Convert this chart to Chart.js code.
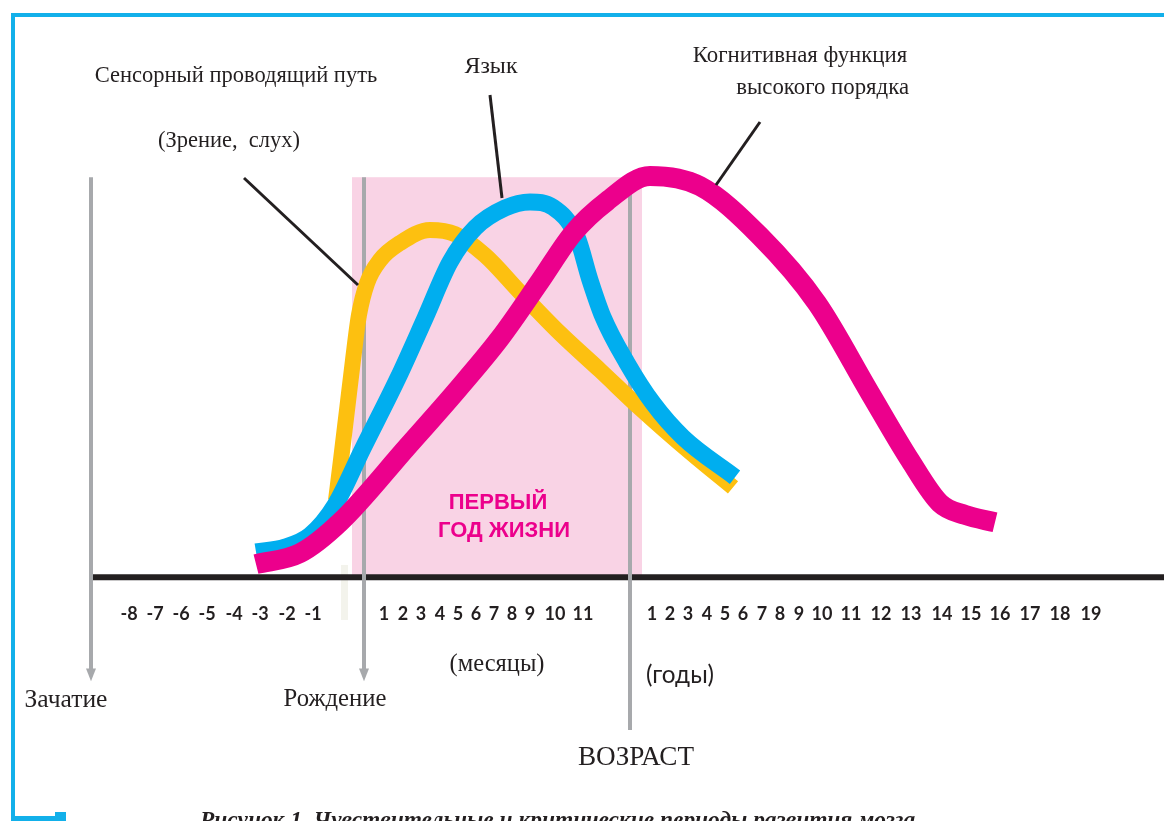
<!DOCTYPE html>
<html>
<head>
<meta charset="utf-8">
<script src="https://cdn.jsdelivr.net/npm/chart.js@4/dist/chart.umd.min.js"></script>
<style>
  html, body { margin: 0; padding: 0; background: #fff; }
  #wrap { width: 1164px; height: 821px; }
</style>
</head>
<body>
<div id="wrap"><canvas id="grafico" width="1164" height="821"></canvas></div>
<script>
// x: позиция на шкале времени (условные единицы), y: уровень развития (0 = ось, 100 = пик)
const cognitiveX = [25.6, 30.0, 34.0, 40.7, 45.7, 50.0, 54.0, 57.3, 60.7, 65.0, 70.0, 76.0, 81.7, 87.0, 91.0, 94.0, 96.5, 99.5];
const cognitiveY = [3.2, 5.9, 13.5, 32.0, 46.0, 58.8, 72.8, 84.6, 92.5, 98.7, 96.2, 83.9, 67.4, 45.3, 28.8, 18.2, 15.3, 13.5];

const languageX = [25.6, 28.5, 31.0, 33.5, 36.3, 39.8, 42.5, 45.0, 47.5, 50.5, 53.0, 55.3, 57.7, 59.0, 60.3, 62.7, 65.3, 68.3, 73.5];
const languageY = [6.2, 7.4, 10.3, 17.7, 31.7, 49.0, 63.7, 77.5, 85.9, 90.8, 92.3, 91.0, 83.7, 73.1, 64.0, 52.7, 42.8, 34.4, 24.6];

const sensoryX = [33.6, 34.1, 34.7, 35.3, 35.9, 36.7, 38.0, 40.0, 43.0, 45.5, 48.5, 52.0, 56.0, 60.0, 64.0, 69.0, 73.3];
const sensoryY = [18.9, 28.8, 41.1, 53.4, 64.5, 72.3, 78.0, 82.2, 85.4, 84.4, 79.2, 70.1, 60.0, 50.9, 41.6, 30.8, 22.1];

const tickLabels = ['-8', '-7', '-6', '-5', '-4', '-3', '-2', '-1',
  '1', '2', '3', '4', '5', '6', '7', '8', '9', '10', '11',
  '1', '2', '3', '4', '5', '6', '7', '8', '9', '10', '11', '12', '13', '14', '15', '16', '17', '18', '19'];
const tickX = [12.9, 15.5, 18.1, 20.7, 23.4, 26.0, 28.7, 31.3,
  38.4, 40.3, 42.1, 44.0, 45.8, 47.6, 49.4, 51.2, 53.0, 55.5, 58.3,
  65.2, 67.0, 68.8, 70.7, 72.5, 74.3, 76.2, 78.0, 79.9, 82.2, 85.1, 88.1, 91.1, 94.2, 97.1, 100.0, 103.0, 106.0, 109.1];

// первый год жизни и вертикальные отметки
const firstYear = [35.2, 64.2];
const conceptionX = 9.1;
const birthX = 36.4;
const ageX = 63.0;

const SERIF = '"Liberation Serif", "DejaVu Serif", serif';
const SANS = 'Lato, "Open Sans", sans-serif';

function toPoints(xs, ys) {
  return xs.map((x, i) => ({ x, y: ys[i] }));
}

// подгоняем размер шрифта под нужную ширину
function fitText(ctx, text, x, y, font, width, align, baseline) {
  ctx.font = font.replace('#', '20px');
  const size = 20 * width / ctx.measureText(text).width;
  ctx.font = font.replace('#', size.toFixed(1) + 'px');
  ctx.textAlign = align || 'center';
  ctx.textBaseline = baseline || 'middle';
  ctx.fillText(text, x, y);
}

function line(ctx, x1, y1, x2, y2, color, w) {
  ctx.beginPath();
  ctx.strokeStyle = color;
  ctx.lineWidth = w;
  ctx.moveTo(x1, y1);
  ctx.lineTo(x2, y2);
  ctx.stroke();
}

const fundo = {
  id: 'fundo',
  beforeDatasetsDraw(chart) {
    const { ctx, scales: { x, y } } = chart;
    ctx.save();
    // розовая зона
    ctx.fillStyle = '#F9D3E5';
    ctx.fillRect(x.getPixelForValue(firstYear[0]), y.getPixelForValue(98.4),
      x.getPixelForValue(firstYear[1]) - x.getPixelForValue(firstYear[0]),
      y.getPixelForValue(0) - y.getPixelForValue(98.4));

    // бледная полоска у рождения
    ctx.fillStyle = '#F3F3EC';
    ctx.fillRect(x.getPixelForValue(34.1), y.getPixelForValue(3), 7, 55);

    // ось
    line(ctx, x.getPixelForValue(9.2), y.getPixelForValue(0), chart.width, y.getPixelForValue(0), '#231F20', 6);

    // серые вертикали
    const gray = '#A7A9AC';
    [conceptionX, birthX].forEach(v => {
      const px = x.getPixelForValue(v);
      line(ctx, px, y.getPixelForValue(98.4), px, y.getPixelForValue(-23.5), gray, 4);
      ctx.fillStyle = gray;
      ctx.beginPath();
      ctx.moveTo(px - 5, y.getPixelForValue(-22.5));
      ctx.lineTo(px + 5, y.getPixelForValue(-22.5));
      ctx.lineTo(px, y.getPixelForValue(-25.6));
      ctx.closePath();
      ctx.fill();
    });
    const ax = x.getPixelForValue(ageX);
    line(ctx, ax, y.getPixelForValue(94.7), ax, y.getPixelForValue(-37.6), gray, 4);

    // подписи шкалы
    ctx.fillStyle = '#231F20';
    ctx.font = 'bold 18px ' + SANS;
    ctx.textAlign = 'center';
    ctx.textBaseline = 'middle';
    tickLabels.forEach((t, i) => {
      ctx.fillText(t, x.getPixelForValue(tickX[i]), y.getPixelForValue(-9.1));
    });

    // первый год жизни
    ctx.fillStyle = '#EC008C';
    ctx.font = 'bold 22px "Liberation Sans", Arial, sans-serif';
    ctx.fillText('ПЕРВЫЙ', 498, 503);
    ctx.fillText('ГОД ЖИЗНИ', 504, 531);
    ctx.restore();
  },
  afterDatasetsDraw(chart) {
    const { ctx } = chart;
    ctx.save();
    ctx.fillStyle = '#231F20';
    const serif = '# ' + SERIF;
    fitText(ctx, 'Сенсорный проводящий путь', 236, 76, serif, 283);
    fitText(ctx, '(Зрение,  слух)', 229, 141, serif, 142);
    fitText(ctx, 'Язык', 491, 67, serif, 53);
    fitText(ctx, 'Когнитивная функция', 800, 56, serif, 214);
    fitText(ctx, 'высокого порядка', 909, 88, serif, 173, 'right');
    fitText(ctx, '(месяцы)', 497, 665, serif, 95);
    fitText(ctx, '(годы)', 680, 675, '# ' + SANS, 68);
    fitText(ctx, 'ВОЗРАСТ', 636, 758, serif, 116);
    fitText(ctx, 'Зачатие', 66, 700, serif, 83);
    fitText(ctx, 'Рождение', 335, 700, serif, 103);

    // выноски
    line(ctx, 244, 178, 358, 285, '#231F20', 3);
    line(ctx, 490, 95, 502, 198, '#231F20', 3);
    line(ctx, 760, 122, 716, 185, '#231F20', 3);

    // рамка
    ctx.fillStyle = '#12B0EA';
    ctx.fillRect(11, 13, 1153, 4);
    ctx.fillRect(11, 13, 4, 806);
    ctx.fillRect(11, 816, 50, 5);
    ctx.fillRect(55, 812, 11, 9);

    // подпись рисунка (обрезана снизу)
    ctx.fillStyle = '#231F20';
    fitText(ctx, 'Рисунок 1. Чувствительные и критические периоды развития мозга', 200, 827,
      'italic bold # ' + SERIF, 715, 'left', 'alphabetic');
    ctx.restore();
  }
};

new Chart(document.getElementById('grafico'), {
  type: 'line',
  data: {
    datasets: [
      { label: 'Когнитивная функция', data: toPoints(cognitiveX, cognitiveY), borderColor: '#EC008C', borderWidth: 20 },
      { label: 'Язык', data: toPoints(languageX, languageY), borderColor: '#00AEEF', borderWidth: 17 },
      { label: 'Сенсорный путь', data: toPoints(sensoryX, sensoryY), borderColor: '#FDC010', borderWidth: 16 }
    ]
  },
  options: {
    responsive: false,
    animation: false,
    events: [],
    layout: { padding: 0 },
    elements: {
      point: { radius: 0 },
      line: { cubicInterpolationMode: 'monotone', borderCapStyle: 'butt', borderJoinStyle: 'round', fill: false }
    },
    plugins: { legend: { display: false }, tooltip: { enabled: false } },
    scales: {
      x: { type: 'linear', display: false, min: 0, max: 116.4 },
      y: { type: 'linear', display: false, min: -60, max: 142 }
    }
  },
  plugins: [fundo]
});
</script>
</body>
</html>
